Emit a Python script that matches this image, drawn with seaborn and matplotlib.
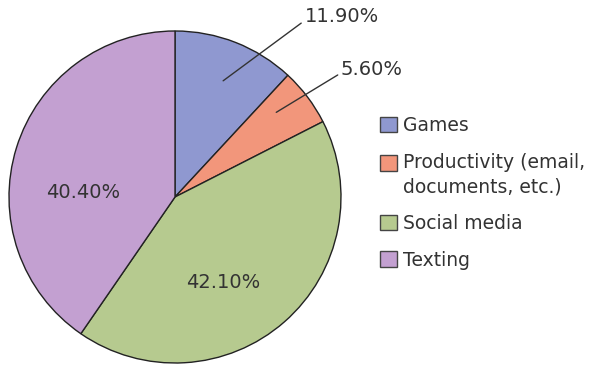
import matplotlib
matplotlib.use('Agg')
import matplotlib.pyplot as plt
import seaborn as sns
from matplotlib.patches import Rectangle
from matplotlib.legend_handler import HandlerPatch

sns.set_theme(style='white')
plt.rcParams['font.family'] = ['DejaVu Sans']

# Data
categories = ['Games', 'Productivity (email,\ndocuments, etc.)', 'Social media', 'Texting']
shares = [11.9, 5.6, 42.1, 40.4]
pct_labels = ['11.90%', '5.60%', '42.10%', '40.40%']
colors = ['#8f98d0', '#f2967b', '#b6ca8f', '#c3a0d1']

fig = plt.figure(figsize=(6.05, 3.65), dpi=100)
ax = fig.add_axes([9 / 605, 2 / 365, 332 / 605, 332 / 365])

wedges, _ = ax.pie(shares, colors=colors, startangle=90, counterclock=False,
                   wedgeprops=dict(edgecolor='#222222', linewidth=1.0))
ax.set_xlim(-1.0, 1.0)
ax.set_ylim(-1.0, 1.0)
ax.set_aspect('equal')

txt_color = '#333333'
fs = 14
# outside labels with leader lines (Games, Productivity)
ax.annotate(pct_labels[0], xy=(0.29, 0.70), xytext=(0.78, 1.085),
            textcoords='data', va='center', ha='left', fontsize=fs, color=txt_color,
            arrowprops=dict(arrowstyle='-', color='#333333', lw=1.0,
                            shrinkA=0, shrinkB=0, relpos=(0, 0.3)),
            annotation_clip=False)
ax.annotate(pct_labels[1], xy=(0.61, 0.51), xytext=(1.0, 0.77),
            textcoords='data', va='center', ha='left', fontsize=fs, color=txt_color,
            arrowprops=dict(arrowstyle='-', color='#333333', lw=1.0,
                            shrinkA=0, shrinkB=0, relpos=(0, 0.3)),
            annotation_clip=False)
# inside labels
ax.text(0.29, -0.515, pct_labels[2], ha='center', va='center', fontsize=fs, color=txt_color)
ax.text(-0.555, 0.03, pct_labels[3], ha='center', va='center', fontsize=fs, color=txt_color)


# handle for the two-line label sits next to its first line
def top_patch(legend, orig_handle, xdescent, ydescent, width, height, fontsize):
    return Rectangle((-xdescent, -ydescent + 9), width, height)


leg = fig.legend(wedges, categories, loc='upper left', bbox_to_anchor=(380 / 605, 1 - 116 / 365),
                 frameon=False, fontsize=13.5, handlelength=0.9, handleheight=0.9,
                 handletextpad=0.35, labelspacing=0.95, labelcolor=txt_color,
                 borderpad=0, borderaxespad=0,
                 handler_map={wedges[1]: HandlerPatch(patch_func=top_patch)})
for t in leg.get_texts():
    t.set_linespacing(1.35)
for h in leg.legend_handles:
    h.set_edgecolor('#444444')
    h.set_linewidth(1.0)

fig.savefig('out.png', dpi=100)
